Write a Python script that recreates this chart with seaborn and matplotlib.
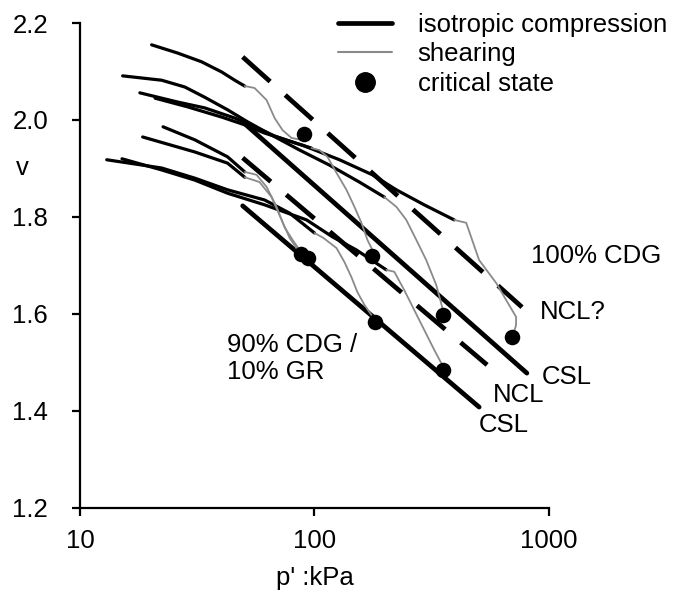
import numpy as np
import pandas as pd
import matplotlib
matplotlib.use("Agg")
import matplotlib.pyplot as plt
import seaborn as sns
from matplotlib.lines import Line2D
from matplotlib.ticker import NullLocator

# ---------------- data (p' in kPa, specific volume v) ----------------
# isotropic compression curves, upper material (100% CDG)
iso_u50_p = [20.2, 26.1, 33.0, 40.2, 45.7, 50.4]
iso_u50_v = [2.155, 2.138, 2.120, 2.099, 2.082, 2.070]
iso_u200_p = [15.2, 22.3, 28.0, 34.0, 42.6, 51.9, 64.4, 86.4, 115.8, 155.4, 198.6]
iso_u200_v = [2.091, 2.082, 2.068, 2.047, 2.021, 1.996, 1.971, 1.938, 1.907, 1.872, 1.841]
iso_u100_p = [18.0, 26.1, 34.0, 45.7, 55.5, 67.6, 82.2, 97.1]
iso_u100_v = [2.056, 2.037, 2.025, 2.004, 1.986, 1.967, 1.953, 1.942]
iso_u400_p = [20.9, 28.8, 40.2, 50.4, 61.3, 88.9, 127.8, 176.6, 223.4, 293.8, 394.2]
iso_u400_v = [2.045, 2.027, 2.006, 1.990, 1.973, 1.948, 1.918, 1.887, 1.856, 1.825, 1.794]
# isotropic compression curves, lower material (90% CDG / 10% GR)
iso_l50a_p = [22.6, 30.9, 42.6, 50.4]
iso_l50a_v = [1.986, 1.959, 1.924, 1.893]
iso_l50b_p = [18.5, 30.9, 42.6, 50.4]
iso_l50b_v = [1.965, 1.934, 1.911, 1.882]
iso_l100_p = [13.0, 22.3, 30.9, 42.6, 61.3, 78.3, 100.0]
iso_l100_v = [1.918, 1.901, 1.880, 1.856, 1.835, 1.808, 1.767]
iso_l200_p = [15.1, 22.3, 30.9, 42.6, 61.3, 92.5, 119.3, 150.9, 202.5]
iso_l200_v = [1.920, 1.897, 1.876, 1.849, 1.825, 1.794, 1.759, 1.732, 1.691]

# shearing paths
sh_u50_p = [50.4, 55.5, 62.5, 67.6, 73.1, 79.8, 88.0]
sh_u50_v = [2.070, 2.066, 2.041, 2.004, 1.979, 1.963, 1.959]
sh_u100_p = [97.1, 105.0, 113.6, 124.1, 136.9, 148.0, 158.5, 168.1, 176.6]
sh_u100_v = [1.942, 1.938, 1.924, 1.891, 1.856, 1.821, 1.788, 1.753, 1.732]
sh_u200_p = [198.6, 223.4, 246.3, 271.6, 299.7, 330.4, 350.5, 353.9]
sh_u200_v = [1.841, 1.821, 1.794, 1.753, 1.711, 1.660, 1.614, 1.604]
sh_u400_p = [394.2, 443.6, 503.7, 595.2, 656.2, 723.9, 723.9, 709.6]
sh_u400_v = [1.794, 1.788, 1.711, 1.664, 1.629, 1.594, 1.577, 1.563]
sh_l50a_p = [50.4, 56.6, 62.5, 68.9, 74.5, 80.6, 86.4]
sh_l50a_v = [1.893, 1.887, 1.862, 1.821, 1.779, 1.753, 1.732]
sh_l50b_p = [50.4, 58.3, 65.6, 72.4, 78.3, 84.7, 91.6]
sh_l50b_v = [1.882, 1.872, 1.841, 1.794, 1.757, 1.732, 1.722]
sh_l100_p = [100.0, 109.0, 124.1, 134.2, 143.7, 152.4, 163.2, 174.9]
sh_l100_v = [1.767, 1.757, 1.736, 1.707, 1.676, 1.645, 1.619, 1.598]
sh_l200_p = [202.5, 219.0, 241.5, 266.4, 293.8, 324.1, 350.5]
sh_l200_v = [1.691, 1.687, 1.649, 1.608, 1.567, 1.526, 1.495]

# critical states
cs_p = [89.8, 176.5, 354.0, 696.0, 88.0, 94.2, 181.8, 354.0]
cs_v = [1.971, 1.720, 1.598, 1.553, 1.724, 1.715, 1.584, 1.485]

# reference lines (end points)
csl_upper_p = [49.4, 805.0]
csl_upper_v = [1.996, 1.478]
csl_lower_p = [49.4, 503.7]
csl_lower_v = [1.823, 1.408]
ncl_upper_p = [49.4, 767.6]
ncl_upper_v = [2.130, 1.614]
ncl_lower_p = [49.4, 544.6]
ncl_lower_v = [1.922, 1.495]

# annotations
ann_text = ["100% CDG", "NCL?", "CSL", "NCL", "CSL", "90% CDG /", "10% GR"]
ann_p = [837.0, 915.6, 933.0, 577.8, 503.7, 42.2, 42.2]
ann_v = [1.720, 1.604, 1.470, 1.433, 1.371, 1.536, 1.480]

legend_labels = ["isotropic compression", "shearing", "critical state"]

# ---------------- build long tables ----------------
def long_table(named):
    rows = []
    for name, (ps, vs) in named.items():
        for i, (p, v) in enumerate(zip(ps, vs)):
            rows.append({"curve": name, "order": i, "p": p, "v": v})
    return pd.DataFrame(rows)

iso_df = long_table({
    "u50": (iso_u50_p, iso_u50_v), "u200": (iso_u200_p, iso_u200_v),
    "u100": (iso_u100_p, iso_u100_v), "u400": (iso_u400_p, iso_u400_v),
    "l50a": (iso_l50a_p, iso_l50a_v), "l50b": (iso_l50b_p, iso_l50b_v),
    "l100": (iso_l100_p, iso_l100_v), "l200": (iso_l200_p, iso_l200_v),
})
sh_df = long_table({
    "u50": (sh_u50_p, sh_u50_v), "u100": (sh_u100_p, sh_u100_v),
    "u200": (sh_u200_p, sh_u200_v), "u400": (sh_u400_p, sh_u400_v),
    "l50a": (sh_l50a_p, sh_l50a_v), "l50b": (sh_l50b_p, sh_l50b_v),
    "l100": (sh_l100_p, sh_l100_v), "l200": (sh_l200_p, sh_l200_v),
})
csl_df = long_table({"up": (csl_upper_p, csl_upper_v), "lo": (csl_lower_p, csl_lower_v)})
ncl_df = long_table({"up": (ncl_upper_p, ncl_upper_v), "lo": (ncl_lower_p, ncl_lower_v)})
cs_df = pd.DataFrame({"p": cs_p, "v": cs_v})

# ---------------- plotting ----------------
sns.set_style("ticks")
plt.rcParams["font.family"] = ["Liberation Sans", "DejaVu Sans"]
plt.rcParams["font.size"] = 18.5
for k in ["text.color", "axes.labelcolor", "xtick.color", "ytick.color", "axes.edgecolor"]:
    plt.rcParams[k] = "black"

fig = plt.figure(figsize=(6.78, 5.99), dpi=100)
ax = fig.add_axes([0.118, 0.152, 0.6917, 0.8096])
ax.set_xscale("log")

sns.lineplot(data=ncl_df, x="p", y="v", units="curve", estimator=None, sort=False,
             color="black", lw=3.4, linestyle=(0, (7.8, 4.3)), ax=ax)
sns.lineplot(data=csl_df, x="p", y="v", units="curve", estimator=None, sort=False,
             color="black", lw=3.4, solid_capstyle="round", ax=ax)
sns.lineplot(data=iso_df, x="p", y="v", units="curve", estimator=None, sort=False,
             color="black", lw=2.3, solid_capstyle="round", ax=ax)
sns.lineplot(data=sh_df, x="p", y="v", units="curve", estimator=None, sort=False,
             color="#8a8a8a", lw=1.3, ax=ax)
sns.scatterplot(data=cs_df, x="p", y="v", color="black", s=125, linewidth=0,
                ax=ax, zorder=5)

ax.set_xlim(10, 1000)
ax.set_ylim(1.2, 2.2)
ax.set_xticks([10, 100, 1000])
ax.set_xticklabels(["10", "100", "1000"])
ax.xaxis.set_minor_locator(NullLocator())
ax.set_yticks([1.2, 1.4, 1.6, 1.8, 2.0, 2.2])
ax.set_yticklabels(["1.2", "1.4", "1.6", "1.8", "2.0", "2.2"])

for s in ["top", "right"]:
    ax.spines[s].set_visible(False)
for s in ["left", "bottom"]:
    ax.spines[s].set_linewidth(1.6)
    ax.spines[s].set_color("black")
ax.tick_params(axis="y", length=6, width=1.6, pad=17, labelsize=18.5, colors="black")
ax.tick_params(axis="x", length=5.5, width=1.6, pad=10, labelsize=18.5, colors="black")

ax.set_xlabel("p' :kPa", fontsize=18.5, color="black")
ax.xaxis.set_label_coords(0.501, -0.12)
ax.set_ylabel("v", rotation=0, fontsize=18.5, va="center", ha="center", color="black")
ax.yaxis.set_label_coords(-0.124, 0.701)

for t, p, v in zip(ann_text, ann_p, ann_v):
    ax.text(p, v, t, ha="left", va="center", fontsize=18.5, color="black", clip_on=False)

handles = [
    Line2D([0], [0], color="black", lw=3.4),
    Line2D([0], [0], color="#8a8a8a", lw=1.5),
    Line2D([0], [0], color="black", marker="o", markersize=14, linestyle="none"),
]
fig.legend(handles, legend_labels, loc="upper left", bbox_to_anchor=(0.4985, 0.979),
           frameon=False, borderpad=0, borderaxespad=0, handlelength=2.1,
           handletextpad=1.0, labelspacing=0.23, fontsize=18.5, labelcolor="black")

fig.savefig("out.png", dpi=100)
